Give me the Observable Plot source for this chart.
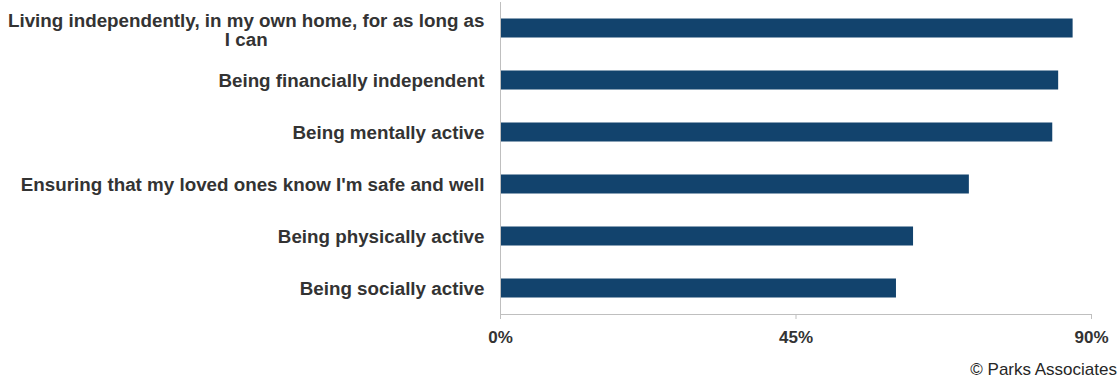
<!DOCTYPE html>
<html>
<head>
<meta charset="utf-8">
<script src="https://cdn.jsdelivr.net/npm/d3@7"></script>
<script src="https://cdn.jsdelivr.net/npm/@observablehq/plot@0.6"></script>
<style>
  html, body { margin: 0; padding: 0; background: #fff; }
  figure { margin: 0; }
  figcaption {
    font-family: "Liberation Sans", Arial, sans-serif;
    font-size: 17px;
    line-height: 20px;
    color: #262626;
    text-align: right;
    padding-right: 2px;
  }
</style>
</head>
<body>
<div id="chart"></div>
<script>
const categories = [
  "Living independently, in my own home, for as long as I can",
  "Being financially independent",
  "Being mentally active",
  "Ensuring that my loved ones know I'm safe and well",
  "Being physically active",
  "Being socially active"
];
const values = [87.2, 85.0, 84.1, 71.4, 62.9, 60.3];
const xTicks = [0, 45, 90];
const captionText = "\u00a9 Parks Associates";

const data = categories.map((c, i) => ({label: c, value: values[i]}));

const labelSize = 18.8;
const labelFont = `bold ${labelSize}px "Liberation Sans"`;
const ctx = document.createElement("canvas").getContext("2d");
ctx.font = labelFont;
const measure = (s) => ctx.measureText(s).width;
function wrap(s, maxW) {
  const words = s.split(" ");
  const lines = [];
  let cur = "";
  for (const w of words) {
    const t = cur ? cur + " " + w : w;
    if (measure(t) > maxW && cur) { lines.push(cur); cur = w; }
    else cur = t;
  }
  if (cur) lines.push(cur);
  return lines;
}

const gap = 16;
const labelMarks = data.map(d => {
  const lines = wrap(d.label, 481);
  const w = Math.max(...lines.map(measure));
  return Plot.text([d], {
    y: "label",
    text: () => lines.join("\n"),
    frameAnchor: "left",
    textAnchor: "middle",
    dx: -(gap + w / 2),
    dy: lines.length > 1 ? 2 : 0,
    lineHeight: 1.02,
    fontSize: labelSize,
    fontWeight: "bold",
    fill: "#333333"
  });
});

const chart = Plot.plot({
  width: 1119,
  height: 360,
  marginLeft: 500,
  marginRight: 28,
  marginTop: 2,
  marginBottom: 46,
  style: {fontFamily: '"Liberation Sans", Arial, sans-serif', background: "#fff"},
  caption: captionText,
  x: {domain: [0, 90], axis: null},
  y: {domain: categories, paddingInner: 0.6346, paddingOuter: 0.3173, round: false, axis: null},
  marks: [
    Plot.barX(data, {x: "value", y: "label", fill: "#12436D"}),
    Plot.frame({anchor: "bottom", stroke: "#bfbfbf"}),
    Plot.ruleX([0], {stroke: "#bfbfbf"}),
    Plot.axisX({
      ticks: xTicks,
      tickSize: 5,
      tickPadding: 11,
      tickFormat: d => d + "%",
      stroke: "#bfbfbf",
      fill: "#333333",
      fontSize: 17,
      fontWeight: "bold",
      label: null
    }),
    ...labelMarks
  ]
});
document.getElementById("chart").appendChild(chart);
</script>
</body>
</html>
